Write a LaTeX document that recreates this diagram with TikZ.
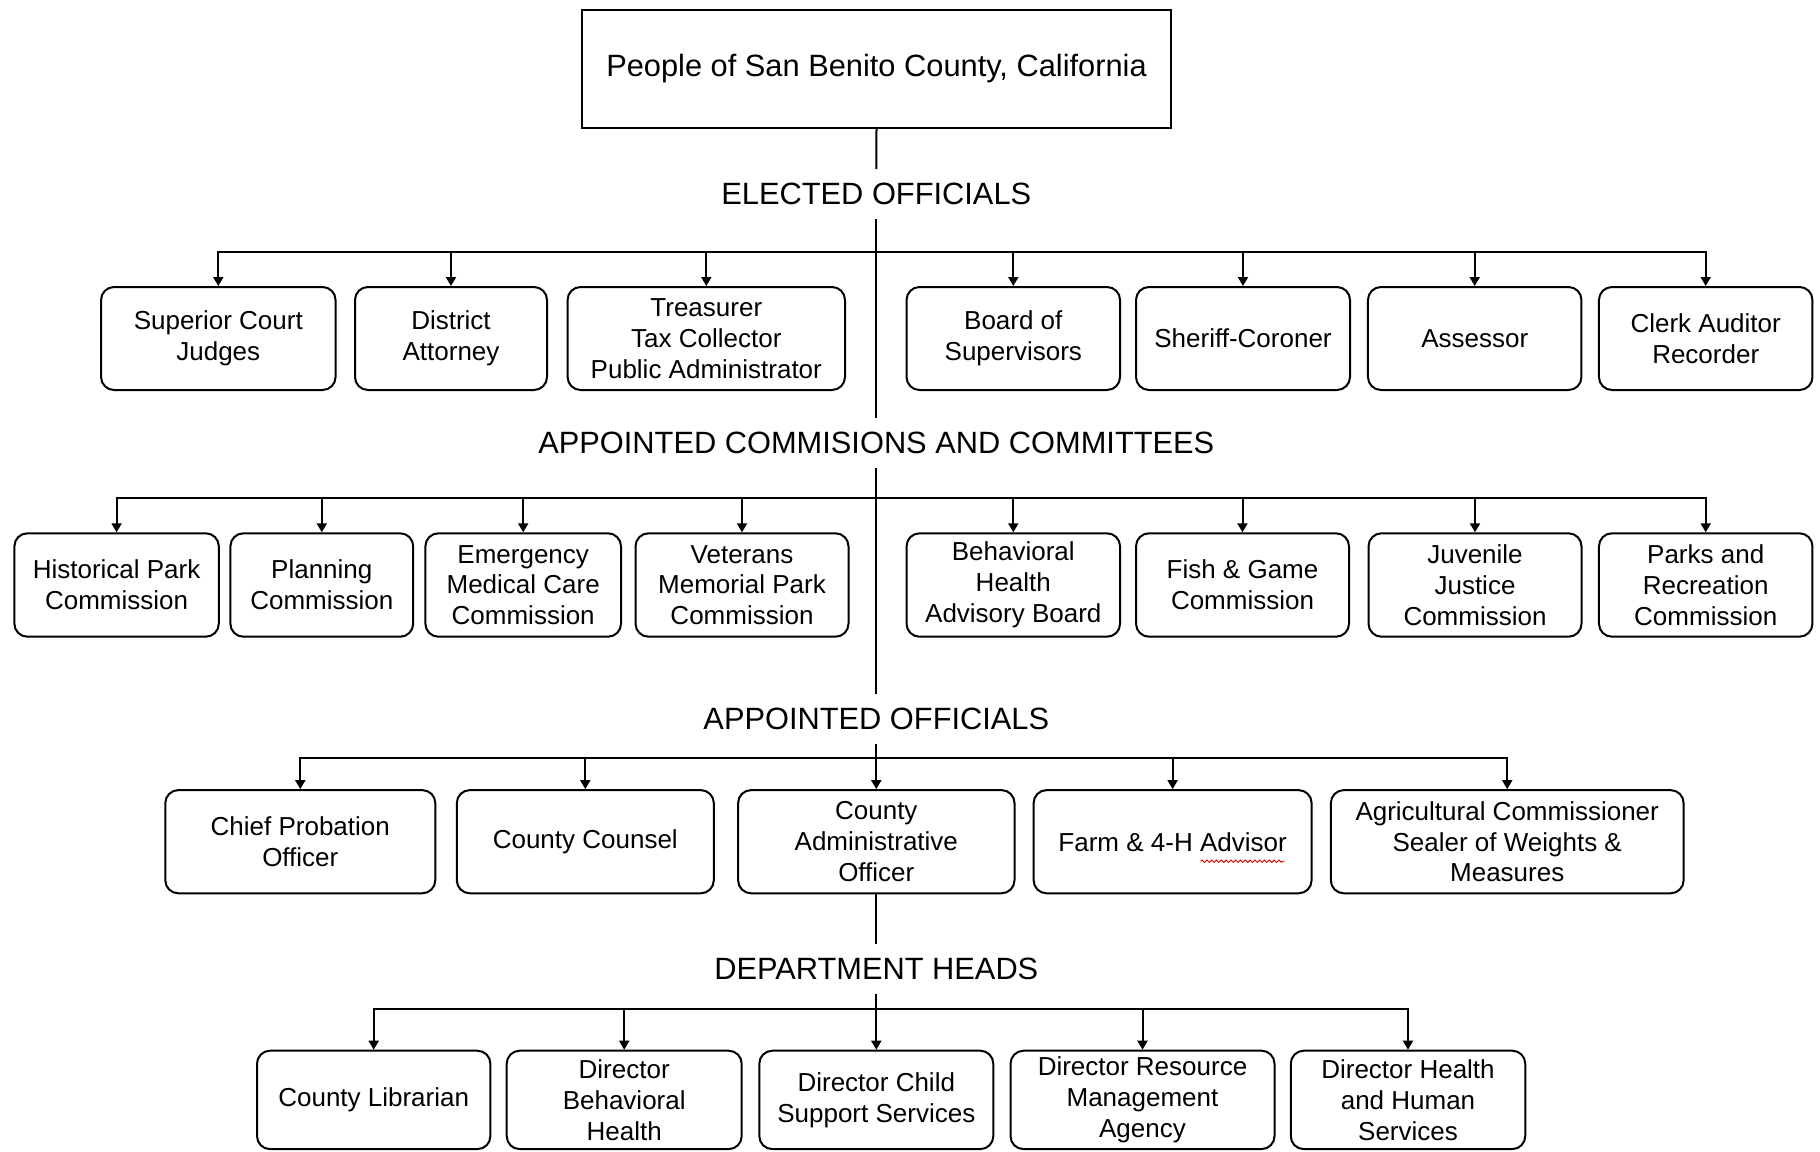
\documentclass[tikz,border=0pt]{standalone}
\usepackage{fontspec}
\setmainfont{Liberation Sans}
\usetikzlibrary{arrows.meta,calc,decorations.pathmorphing}
\begin{document}
\begin{tikzpicture}[x=0.5pt,y=-0.5pt,
  box/.style={draw, line width=1pt, rounded corners=6.5pt, align=center,
    font=\fontsize{13}{15.4}\selectfont, inner sep=0pt},
  r1/.style={box, minimum height=51.5pt},
  r2/.style={box, minimum height=51.7pt},
  r3/.style={box, minimum height=51.6pt},
  r4/.style={box, minimum height=49.2pt},
  hdr/.style={font=\fontsize{15.4}{18}\selectfont, inner sep=0pt, minimum height=24.5pt},
  ln/.style={line width=1pt},
  arr/.style={line width=1pt, -{Triangle[length=4.5pt,width=5pt]}},
  spell/.style={red!85!black, line width=0.45pt, decorate,
    decoration={snake, amplitude=0.6pt, segment length=2.4pt}}]
\useasboundingbox (0,0) rectangle (1820,1151);
% top
\node[box, sharp corners, minimum width=294.5pt, minimum height=58.8pt,
  font=\fontsize{15.4}{18}\selectfont] (top) at (876.5,69) {People of San Benito County, California};
% headers
\node[hdr] (h1) at (876.3,194) {ELECTED OFFICIALS};
\node[hdr] (h2) at (876.3,443) {APPOINTED COMMISIONS AND COMMITTEES};
\node[hdr] (h3) at (876.3,719) {APPOINTED OFFICIALS};
\node[hdr] (h4) at (876.3,969) {DEPARTMENT HEADS};
% row 1
\node[r1, minimum width=117.25pt] (sc) at (218.3,338.5) {Superior Court\\Judges};
\node[r1, minimum width=96pt] (da) at (451,338.5) {District\\Attorney};
\node[r1, minimum width=138.7pt] (tr) at (706.3,338.5) {Treasurer\\Tax Collector\\Public Administrator};
\node[r1, minimum width=106.75pt] (bs) at (1013.3,338.5) {Board of\\Supervisors};
\node[r1, minimum width=107pt] (sh) at (1243,338.5) {Sheriff-Coroner};
\node[r1, minimum width=106.75pt] (as) at (1474.7,338.5) {Assessor};
\node[r1, minimum width=106.75pt] (cl) at (1705.7,338.5) {Clerk Auditor\\Recorder};
% row 2
\node[r2, minimum width=102.2pt] (hp) at (116.6,585) {Historical Park\\Commission};
\node[r2, minimum width=91.4pt] (pl) at (321.8,585) {Planning\\Commission};
\node[r2, minimum width=97.8pt] (em) at (523.2,585) {Emergency\\Medical Care\\Commission};
\node[r2, minimum width=106.5pt] (ve) at (742,585) {Veterans\\Memorial Park\\Commission};
\node[r2, minimum width=106.75pt] (bh) at (1013.3,585) {Behavioral\\Health\\Advisory Board};
\node[r2, minimum width=106.5pt] (fg) at (1242.5,585) {Fish \& Game\\Commission};
\node[r2, minimum width=106.5pt] (jj) at (1475,585) {Juvenile\\Justice\\Commission};
\node[r2, minimum width=106.75pt] (pr) at (1705.7,585) {Parks and\\Recreation\\Commission};
% row 3
\node[r3, minimum width=135pt] (cp) at (300.3,841.7) {Chief Probation\\Officer};
\node[r3, minimum width=128.5pt] (cc) at (585.3,841.7) {County Counsel};
\node[r3, minimum width=138.2pt] (ca) at (876.3,841.7) {County\\Administrative\\Officer};
\node[r3, minimum width=139pt] (fa) at (1172.6,841.7) {Farm \& 4-H Advisor};
\node[r3, minimum width=176.4pt] (ag) at (1507.2,841.7) {Agricultural Commissioner\\Sealer of Weights \&\\Measures};
% spell-check underline under "Advisor"
\coordinate (sw1) at ($(fa.center)+(28,19.5)$);
\coordinate (sw2) at ($(fa.center)+(112,19.5)$);
\draw[spell] (sw1) -- (sw2);
% row 4
\node[r4, minimum width=116.7pt] (li) at (373.7,1099.9) {County Librarian};
\node[r4, minimum width=117.5pt] (db) at (624.2,1099.9) {Director\\Behavioral\\Health};
\node[r4, minimum width=117pt] (cs) at (876.3,1099.9) {Director Child\\Support Services};
\node[r4, minimum width=132pt] (rm) at (1142.5,1099.9) {Director Resource\\Management\\Agency};
\node[r4, minimum width=117.25pt] (hh) at (1408,1099.9) {Director Health\\and Human\\Services};
% bus points
\coordinate (b1) at (876.3,252);
\coordinate (b2) at (876.3,498.3);
\coordinate (b3) at (876.3,758.3);
\coordinate (b4) at (876.3,1009);
% trunk
\draw[ln] (top.south) -- (h1.north);
\draw[ln] (h1.south) -- (h2.north);
\draw[ln] (h2.south) -- (h3.north);
\draw[arr] (h3.south) -- (ca.north);
\draw[ln] (ca.south) -- (h4.north);
\draw[arr] (h4.south) -- (cs.north);
% branches
\foreach \n in {sc,da,tr,bs,sh,as,cl} \draw[arr] (b1) -| (\n.north);
\foreach \n in {hp,pl,em,ve,bh,fg,jj,pr} \draw[arr] (b2) -| (\n.north);
\foreach \n in {cp,cc,fa,ag} \draw[arr] (b3) -| (\n.north);
\foreach \n in {li,db,rm,hh} \draw[arr] (b4) -| (\n.north);
\end{tikzpicture}
\end{document}
